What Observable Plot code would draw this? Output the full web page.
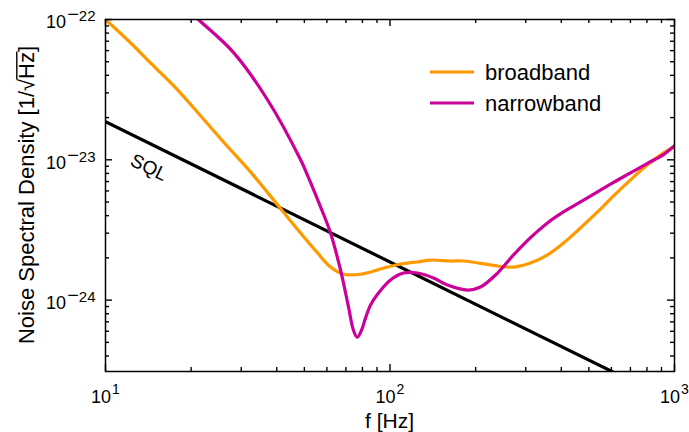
<!DOCTYPE html>
<html><head><meta charset="utf-8">
<script src="https://cdn.jsdelivr.net/npm/d3@7"></script>
<script src="https://cdn.jsdelivr.net/npm/@observablehq/plot@0.6"></script>
<style>
html,body{margin:0;padding:0;background:#fff;}
#chart{width:689px;height:432px;}
svg text{font-family:"Liberation Sans",Arial,sans-serif;}
</style></head><body><div id="chart"></div>
<script>
// ---- data ----
const broadbandF = [10, 12.24, 14.39, 17.62, 21.58, 26.42, 32.33, 41.9, 48.47, 55.63, 61.8, 68.6, 78.8, 94.9, 108.9, 124.9, 138.8, 163.3, 181.3, 238.8, 271.8, 311.8, 357.8, 407.2, 467.4, 536.3, 610.4, 700.4, 803.9, 914.9, 1000];
const broadbandS = [1.0e-22, 6.83e-23, 4.91e-23, 3.27e-23, 2.06e-23, 1.29e-23, 8.21e-24, 4.32e-24, 3.01e-24, 2.17e-24, 1.72e-24, 1.53e-24, 1.53e-24, 1.69e-24, 1.81e-24, 1.87e-24, 1.93e-24, 1.90e-24, 1.90e-24, 1.75e-24, 1.72e-24, 1.84e-24, 2.10e-24, 2.55e-24, 3.27e-24, 4.25e-24, 5.53e-24, 7.20e-24, 9.21e-24, 1.12e-23, 1.24e-23];
const narrowbandF = [20, 21.2, 28.2, 37.1, 48.5, 51.7, 57.0, 61.8, 67.0, 71.5, 74.4, 76.7, 79.4, 82.0, 85.4, 90.4, 100.4, 111.5, 124.9, 142.2, 159.3, 187.3, 208.0, 238.8, 271.8, 311.8, 357.8, 407.2, 467.4, 536.3, 610.4, 700.4, 803.9, 914.9, 1000];
const narrowbandS = [1.12e-22, 1.0e-22, 5.81e-23, 2.68e-23, 1.0e-23, 7.48e-24, 4.62e-24, 3.01e-24, 1.64e-24, 8.91e-25, 6.10e-25, 5.44e-25, 6.10e-25, 7.44e-25, 9.21e-25, 1.10e-24, 1.39e-24, 1.56e-24, 1.56e-24, 1.44e-24, 1.28e-24, 1.18e-24, 1.24e-24, 1.56e-24, 2.10e-24, 2.79e-24, 3.55e-24, 4.25e-24, 5.01e-24, 5.91e-24, 6.90e-24, 8.07e-24, 9.44e-24, 1.09e-23, 1.26e-23];
const sqlF = [10, 1000];
const sqlS = [1.87e-23, 1.87e-25];
const sqlLabel = "SQL";
const sqlLabelF = 14.2;
const sqlLabelS = 8.8e-24;

const seriesNames = ["broadband", "narrowband"];
const seriesColors = ["#ff9900", "#cc0099"];

const xDomain = [10, 1000];
const yDomain = [3.1e-25, 1e-22];
const xTicks = [10, 100, 1000];
const xTickExps = ["1", "2", "3"];
const xMinor = [20, 30, 40, 50, 60, 70, 80, 90, 200, 300, 400, 500, 600, 700, 800, 900];
const yTicks = [1e-24, 1e-23, 1e-22];
const yTickExps = ["\u221224", "\u221223", "\u221222"];
const yMinor = [4e-25, 5e-25, 6e-25, 7e-25, 8e-25, 9e-25, 2e-24, 3e-24, 4e-24, 5e-24, 6e-24, 7e-24, 8e-24, 9e-24, 2e-23, 3e-23, 4e-23, 5e-23, 6e-23, 7e-23, 8e-23, 9e-23];
const xLabel = "f [Hz]";
const yLabelPre = "Noise Spectral Density [1/\u221A";
const yLabelRad = "Hz";
const yLabelPost = "]";

// ---- build tables ----
const broadband = broadbandF.map((f, i) => ({f, s: broadbandS[i]}));
const narrowband = narrowbandF.map((f, i) => ({f, s: narrowbandS[i]}));
const sql = sqlF.map((f, i) => ({f, s: sqlS[i]}));

const W = 689, H = 432, mL = 105, mR = 15, mT = 19, mB = 61;
const innerW = W - mL - mR, innerH = H - mT - mB;
const major = 7, minor = 4, tickW = 1.4;

const svg = Plot.plot({
  width: W, height: H,
  marginLeft: mL, marginRight: mR, marginTop: mT, marginBottom: mB,
  style: {fontFamily: "Liberation Sans, Arial, sans-serif", background: "white", color: "black", overflow: "visible"},
  x: {type: "log", domain: xDomain},
  y: {type: "log", domain: yDomain},
  marks: [
    Plot.line(sql, {x: "f", y: "s", stroke: "black", strokeWidth: 3.2, clip: true}),
    Plot.line(broadband, {x: "f", y: "s", stroke: seriesColors[0], strokeWidth: 3.2, curve: "catmull-rom", clip: true}),
    Plot.line(narrowband, {x: "f", y: "s", stroke: seriesColors[1], strokeWidth: 3.2, curve: "catmull-rom", clip: true}),
    Plot.text([{f: sqlLabelF, s: sqlLabelS, t: sqlLabel}], {x: "f", y: "s", text: "t", rotate: 26, fontSize: 19, fill: "black"}),
    Plot.tickX(xTicks, {x: d => d, insetTop: innerH - major, stroke: "black", strokeWidth: tickW}),
    Plot.tickX(xTicks, {x: d => d, insetBottom: innerH - major, stroke: "black", strokeWidth: tickW}),
    Plot.tickX(xMinor, {x: d => d, insetTop: innerH - minor, stroke: "black", strokeWidth: tickW}),
    Plot.tickX(xMinor, {x: d => d, insetBottom: innerH - minor, stroke: "black", strokeWidth: tickW}),
    Plot.tickY(yTicks, {y: d => d, insetRight: innerW - major, stroke: "black", strokeWidth: tickW}),
    Plot.tickY(yTicks, {y: d => d, insetLeft: innerW - major, stroke: "black", strokeWidth: tickW}),
    Plot.tickY(yMinor, {y: d => d, insetRight: innerW - minor, stroke: "black", strokeWidth: tickW}),
    Plot.tickY(yMinor, {y: d => d, insetLeft: innerW - minor, stroke: "black", strokeWidth: tickW}),
    Plot.frame({stroke: "black", strokeWidth: 1.5}),
    Plot.axisX(xTicks, {tickSize: 0, tickPadding: 19, fontSize: 18, label: null,
      tickFormat: d => "10^" + xTickExps[xTicks.indexOf(d)]}),
    Plot.axisY(yTicks, {tickSize: 0, tickPadding: 10, fontSize: 18, dy: 3, label: null,
      tickFormat: d => "10^" + yTickExps[yTicks.indexOf(d)]})
  ]
});
document.getElementById("chart").appendChild(svg);
const s = d3.select(svg);

// superscript tick labels (minus drawn a little larger, as in the reference)
function sup(sel, dy, size) {
  sel.each(function () {
    const parts = this.textContent.split("^");
    const t = d3.select(this);
    t.text(null);
    t.append("tspan").text(parts[0]);
    let exp = parts[1];
    let first = true;
    if (exp[0] === "\u2212") {
      t.append("tspan").attr("dy", dy).attr("dx", 1).attr("font-size", size + 5).text("\u2212");
      exp = exp.slice(1);
      first = false;
    }
    const d = t.append("tspan").attr("font-size", size).text(exp);
    if (first) d.attr("dy", dy).attr("dx", 1);
  });
}
sup(s.selectAll('g[aria-label="x-axis tick label"] text'), -9, 14);
sup(s.selectAll('g[aria-label="y-axis tick label"] text'), -7, 15);

// x label
s.append("text").attr("x", mL + innerW / 2).attr("y", 428).attr("text-anchor", "middle")
  .attr("font-size", 21).attr("fill", "black").text(xLabel);

// y label with radical overline
const yl = s.append("g").attr("transform", `translate(34,${mT + innerH / 2}) rotate(-90)`);
const yt = yl.append("text").attr("text-anchor", "middle").attr("font-size", 22).attr("fill", "black");
yt.append("tspan").text(yLabelPre);
yt.append("tspan").text(yLabelRad);
yt.append("tspan").text(yLabelPost);
{
  const node = yt.node();
  const iH = yLabelPre.length;
  const x0 = node.getStartPositionOfChar(iH).x;
  const x1 = node.getEndPositionOfChar(iH + yLabelRad.length - 1).x;
  yl.append("line").attr("x1", x0 - 0.5).attr("x2", x1 + 0.5).attr("y1", -17.2).attr("y2", -17.2)
    .attr("stroke", "black").attr("stroke-width", 1.4);
}

// legend
const legY = [72, 103];
seriesNames.forEach((name, i) => {
  const g = s.append("g");
  g.append("line").attr("x1", 430).attr("x2", 474).attr("y1", legY[i]).attr("y2", legY[i])
    .attr("stroke", seriesColors[i]).attr("stroke-width", 3.2);
  g.append("text").attr("x", 485).attr("y", legY[i] + 7.5).attr("text-anchor", "start")
    .attr("font-size", 22).attr("fill", "black").text(name);
});
</script>
</body></html>
